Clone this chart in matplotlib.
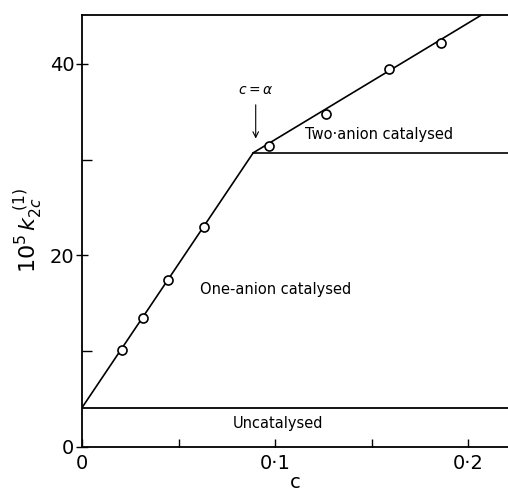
import matplotlib
matplotlib.use('Agg')
import matplotlib.pyplot as plt

# measured points
c_obs = [0.0207, 0.0314, 0.0444, 0.0634, 0.0971, 0.1264, 0.1592, 0.1858]
k_obs = [10.1, 13.5, 17.4, 23.0, 31.4, 34.7, 39.4, 42.2]

# fitted lines
k_uncat = 4.1
c_knee, k_knee = 0.0887, 30.7
c_end, k_end = 0.2071, 45.1
x_max, y_max = 0.2207, 45.1

x_ticks = [0, 0.1, 0.2]
x_labels = ['0', '0·1', '0·2']
y_ticks = [0, 20, 40]
y_labels = ['0', '20', '40']

fig = plt.figure(figsize=(5.08, 4.95), dpi=100)
ax = fig.add_axes([0.1614, 0.097, 0.8386, 0.873])

ax.plot([0, x_max], [k_uncat, k_uncat], color='black', lw=1.3)
ax.plot([0, c_knee, c_end], [k_uncat, k_knee, k_end], color='black', lw=1.2)
ax.plot([c_knee, x_max], [k_knee, k_knee], color='black', lw=1.2)
ax.plot(c_obs, k_obs, 'o', mfc='white', mec='black', ms=6.5, mew=1.2, zorder=3)

ax.annotate('', xy=(0.090, 31.9), xytext=(0.090, 36.0),
            arrowprops=dict(arrowstyle='->', color='black', lw=0.8))
ax.text(0.090, 37.3, r'$c = \alpha$', ha='center', va='center', fontsize=10)
ax.text(0.1155, 32.6, 'Two·anion catalysed', ha='left', va='center', fontsize=10.5)
ax.text(0.0611, 16.4, 'One-anion catalysed', ha='left', va='center', fontsize=10.5)
ax.text(0.0782, 2.5, 'Uncatalysed', ha='left', va='center', fontsize=10.5)

ax.set_xlim(0, x_max)
ax.set_ylim(0, y_max)
ax.set_xticks(x_ticks)
ax.set_xticklabels(x_labels, fontsize=14)
ax.set_xticks([0.05, 0.15], minor=True)
ax.set_yticks(y_ticks)
ax.set_yticklabels(y_labels, fontsize=14)
ax.set_yticks([10, 30], minor=True)
ax.tick_params(axis='x', which='both', direction='in', length=6, width=1, pad=5)
ax.tick_params(axis='y', which='major', direction='inout', length=9, width=1, pad=1)
ax.tick_params(axis='y', which='minor', direction='in', length=7, width=1)
ax.spines['right'].set_visible(False)
for s in ['left', 'bottom', 'top']:
    ax.spines[s].set_linewidth(1.3)

ax.set_xlabel('c', fontsize=14, labelpad=0)
ax.set_ylabel(r'$10^5\,k_{2c}^{\ (1)}$', fontsize=16, labelpad=4)

fig.savefig('out.png')
